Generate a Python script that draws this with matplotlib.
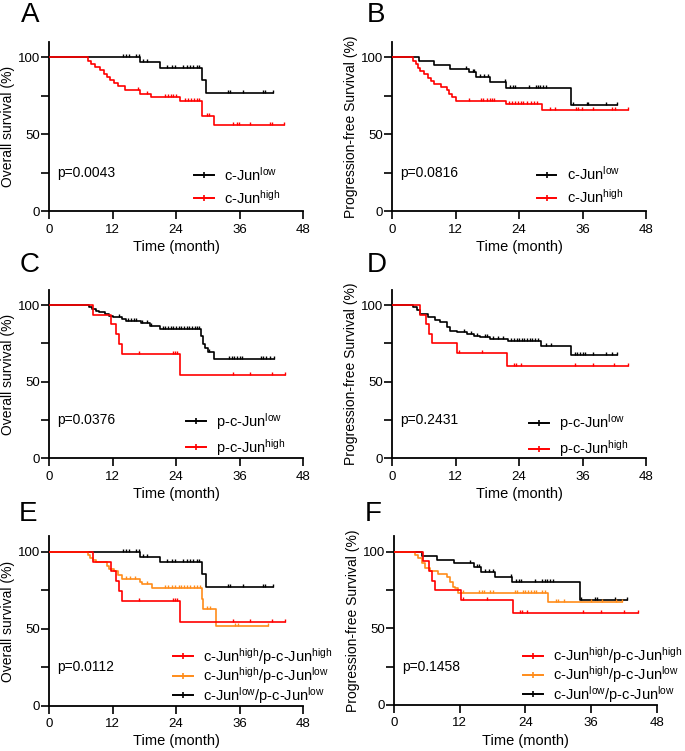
import numpy as np
import matplotlib
matplotlib.use("Agg")
import matplotlib.pyplot as plt
from matplotlib.lines import Line2D

plt.rcParams['font.family'] = ['Liberation Sans', 'DejaVu Sans']
plt.rcParams['mathtext.fontset'] = 'custom'
plt.rcParams['mathtext.rm'] = 'Liberation Sans'
plt.rcParams['mathtext.it'] = 'Liberation Sans'

RED = '#ff0000'
ORANGE = '#ff8c1a'
BLACK = '#000000'

# ---------------- data (time in months, survival in %) ----------------
# Panel A: overall survival by c-Jun
A_low_t = [17.2, 21.0, 28.9, 29.7]
A_low_s = [96.8, 93.1, 85.4, 76.9]
A_low_c = [13.9, 14.6, 15.2, 16.4, 17.0, 17.8, 18.6, 22.2, 23.2, 23.8, 25.3, 26.0,
           26.6, 27.2, 27.9, 28.3, 33.9, 34.2, 36.6, 40.5, 40.8]
A_low_end = 42.3

A_high_t = [7.3, 7.9, 8.6, 9.6, 10.4, 10.9, 11.6, 12.3, 13.0, 14.3, 17.2, 19.3, 24.8, 28.9, 31.2]
A_high_s = [97.9, 95.8, 93.7, 91.6, 89.5, 87.4, 85.3, 83.2, 81.1, 78.9, 76.5, 74.0, 71.7, 61.7, 55.9]
A_high_c = [16.9, 18.5, 22.0, 22.5, 23.0, 23.5, 23.9, 25.6, 26.2, 26.8, 27.3, 27.9, 28.4,
            29.8, 30.2, 34.8, 35.5, 35.9, 38.0, 41.8, 42.1]
A_high_end = 44.3

# Panel B: progression-free survival by c-Jun
B_low_t = [5.1, 7.8, 10.9, 14.6, 15.8, 18.4, 21.6, 33.9]
B_low_s = [97.4, 94.8, 92.4, 90.2, 87.0, 83.7, 80.0, 68.7]
B_low_c = [13.9, 15.2, 15.5, 16.6, 17.3, 18.1, 21.3, 22.3, 22.8, 23.2, 25.8, 27.1, 27.5,
           28.0, 28.5, 29.1, 34.2, 36.8, 37.1, 40.4]
B_low_end = 42.5

B_high_t = [3.9, 4.4, 4.8, 5.2, 6.0, 6.8, 7.3, 7.8, 9.2, 10.3, 10.7, 11.2, 12.1, 21.6, 28.3]
B_high_s = [97.8, 95.6, 93.4, 91.2, 89.0, 86.8, 84.6, 82.4, 80.6, 78.5, 76.3, 74.0, 71.7, 69.8, 65.5]
B_high_c = [14.6, 16.7, 17.1, 17.9, 18.4, 18.8, 19.2, 22.0, 22.6, 23.2, 23.7, 24.3, 24.8,
            25.5, 26.2, 26.8, 27.4, 29.8, 30.8, 34.8, 35.2, 35.8, 38.0, 41.5, 42.1]
B_high_end = 44.5

# Panel C: overall survival by p-c-Jun
C_low_t = [7.5, 8.2, 8.8, 9.5, 10.5, 11.3, 12.0, 13.8, 14.5, 17.3, 19.0, 21.0, 28.8, 29.0, 29.5, 30.0, 31.1]
C_low_s = [98.8, 97.6, 96.4, 95.2, 94.0, 92.9, 92.0, 91.0, 89.8, 88.0, 86.2, 84.6, 80.0, 74.4, 71.7, 69.4, 64.8]
C_low_c = [13.2, 14.9, 15.5, 16.0, 16.5, 17.6, 18.5, 19.3, 21.5, 22.0, 22.5, 23.0, 23.5, 24.0,
           24.5, 25.0, 25.5, 26.0, 26.5, 27.0, 27.5, 28.0, 28.4, 30.3, 34.0, 34.5, 35.0, 35.5,
           36.0, 36.5, 40.0, 40.5, 41.0, 41.7]
C_low_end = 42.5

C_high_t = [8.3, 11.8, 12.6, 13.2, 13.7, 24.8]
C_high_s = [93.5, 87.6, 81.2, 74.8, 68.1, 54.2]
C_high_c = [17.0, 23.5, 23.8, 24.2, 34.8, 38.0, 42.2]
C_high_end = 44.6

# Panel D: progression-free survival by p-c-Jun
D_low_t = [3.9, 4.6, 5.2, 6.8, 8.1, 9.0, 10.3, 10.9, 12.2, 14.1, 15.4, 16.6, 18.5, 21.8, 28.2, 33.8]
D_low_s = [99.0, 96.8, 94.0, 92.4, 90.2, 89.0, 86.0, 83.3, 82.1, 81.0, 80.0, 78.9, 77.8, 76.3, 73.0, 67.3]
D_low_c = [13.5, 14.8, 16.0, 17.5, 18.0, 19.0, 20.0, 21.0, 22.5, 23.0, 23.5, 24.0, 24.5, 25.0,
           25.5, 26.0, 26.5, 27.0, 27.5, 29.0, 30.0, 34.5, 35.0, 35.5, 36.0, 36.5, 38.0, 40.5, 41.5]
D_low_end = 42.5

D_high_t = [5.2, 6.3, 6.9, 7.5, 12.2, 21.7]
D_high_s = [93.8, 87.5, 81.2, 75.0, 68.7, 60.2]
D_high_c = [12.6, 16.9, 23.0, 23.4, 24.3, 34.6, 37.9, 42.0]
D_high_end = 44.5

# Panel E: overall survival, combined groups (c-Jun high / p-c-Jun low)
E_hl_t = [7.4, 7.8, 8.4, 8.8, 10.9, 11.3, 12.2, 13.0, 13.7, 17.2, 17.6, 19.4, 28.9, 29.1, 31.5]
E_hl_s = [98.0, 96.0, 94.5, 93.2, 91.0, 88.6, 87.2, 84.7, 82.0, 80.5, 79.0, 76.2, 69.5, 63.0, 52.0]
E_hl_c = [14.5, 15.3, 16.3, 18.5, 22.0, 22.5, 23.2, 23.8, 24.5, 25.0, 25.5, 26.0, 26.7, 27.3,
          28.0, 28.5, 29.8, 30.4, 35.2, 35.7]
E_hl_end = 41.4

# Panel F: progression-free survival, combined groups (c-Jun high / p-c-Jun low)
F_hl_t = [3.8, 4.4, 5.0, 5.6, 6.5, 8.0, 9.6, 10.2, 10.8, 11.1, 11.7, 28.2]
F_hl_s = [97.8, 95.7, 92.4, 89.1, 87.4, 85.4, 83.3, 80.4, 77.2, 76.0, 73.0, 67.4]
F_hl_c = [12.5, 15.5, 16.0, 16.5, 17.5, 18.0, 22.0, 22.5, 23.5, 24.0, 24.5, 25.0, 25.5, 26.0,
          27.0, 27.5, 29.5, 30.0, 31.0, 36.0, 38.0, 40.5]
F_hl_end = 41.6

p_values = ['p=0.0043', 'p=0.0816', 'p=0.0376', 'p=0.2431', 'p=0.0112', 'p=0.1458']
panel_letters = ['A', 'B', 'C', 'D', 'E', 'F']
ylabels = ['Overall survival (%)', 'Progression-free Survival (%)'] * 3
xticks = [0, 12, 24, 36, 48]

L_cjun_low = r'c-Jun$^{\mathrm{low}}$'
L_cjun_high = r'c-Jun$^{\mathrm{high}}$'
L_p_low = r'p-c-Jun$^{\mathrm{low}}$'
L_p_high = r'p-c-Jun$^{\mathrm{high}}$'
L_hh = r'c-Jun$^{\mathrm{high}}$/p-c-Jun$^{\mathrm{high}}$'
L_hl = r'c-Jun$^{\mathrm{high}}$/p-c-Jun$^{\mathrm{low}}$'
L_ll = r'c-Jun$^{\mathrm{low}}$/p-c-Jun$^{\mathrm{low}}$'

# --------------- drawing ---------------
TICKMARK = [(0, 0), (0, 1)]


def km(ax, t, s, c, end, color, lw=1.2):
    tt = np.concatenate([[0.0], t, [end]])
    ss = np.concatenate([[100.0], s, [s[-1]]])
    ax.step(tt, ss, where='post', color=color, lw=lw, zorder=3)
    cens = np.array(list(c) + [end])
    idx = np.searchsorted(np.array(t), cens, side='right')
    vals = np.concatenate([[100.0], s])[idx]
    ax.plot(cens, vals, ls='none', marker=TICKMARK, markersize=4.5,
            markeredgewidth=1.0, color=color, zorder=4)


def handle(color):
    return Line2D([], [], color=color, lw=1.4, marker='|', markersize=4,
                  markeredgewidth=1.2)


fig = plt.figure(figsize=(6.85, 7.51), dpi=100)

positions = [
    [0.0715, 0.719, 0.371, 0.225],
    [0.5727, 0.719, 0.3704, 0.225],
    [0.0715, 0.3897, 0.371, 0.2245],
    [0.5727, 0.3897, 0.3704, 0.2245],
    [0.0715, 0.0603, 0.371, 0.2256],
    [0.5756, 0.0613, 0.383, 0.2245],
]
letter_pos = [(0.030, 0.998), (0.536, 0.998), (0.028, 0.665), (0.536, 0.665),
              (0.028, 0.333), (0.533, 0.333)]

axes = [fig.add_axes(p) for p in positions]

curves = [
    [(A_low_t, A_low_s, A_low_c, A_low_end, BLACK), (A_high_t, A_high_s, A_high_c, A_high_end, RED)],
    [(B_low_t, B_low_s, B_low_c, B_low_end, BLACK), (B_high_t, B_high_s, B_high_c, B_high_end, RED)],
    [(C_low_t, C_low_s, C_low_c, C_low_end, BLACK), (C_high_t, C_high_s, C_high_c, C_high_end, RED)],
    [(D_low_t, D_low_s, D_low_c, D_low_end, BLACK), (D_high_t, D_high_s, D_high_c, D_high_end, RED)],
    [(A_low_t, A_low_s, A_low_c, A_low_end, BLACK), (E_hl_t, E_hl_s, E_hl_c, E_hl_end, ORANGE),
     (C_high_t, C_high_s, C_high_c, C_high_end, RED)],
    [(B_low_t, B_low_s, B_low_c, B_low_end, BLACK), (F_hl_t, F_hl_s, F_hl_c, F_hl_end, ORANGE),
     (D_high_t, D_high_s, D_high_c, D_high_end, RED)],
]

legends = [
    ([handle(BLACK), handle(RED)], [L_cjun_low, L_cjun_high]),
    ([handle(BLACK), handle(RED)], [L_cjun_low, L_cjun_high]),
    ([handle(BLACK), handle(RED)], [L_p_low, L_p_high]),
    ([handle(BLACK), handle(RED)], [L_p_low, L_p_high]),
    ([handle(RED), handle(ORANGE), handle(BLACK)], [L_hh, L_hl, L_ll]),
    ([handle(RED), handle(ORANGE), handle(BLACK)], [L_hh, L_hl, L_ll]),
]
legend_anchor = [(0.531, -0.032), (0.529, -0.03), (0.50, -0.056), (0.50, -0.067),
                 (0.449, -0.06), (0.452, -0.06)]
legend_spacing = [0.35, 0.35, 0.35, 0.35, -0.1, -0.1]

for i, ax in enumerate(axes):
    for (t, s, c, end, col) in curves[i]:
        km(ax, np.array(t), np.array(s), c, end, col)
    ax.set_xlim(0, 48)
    ax.set_ylim(0, 110)
    ax.set_xticks(xticks)
    ax.set_yticks([0, 50, 100])
    ax.set_yticks([25, 75], minor=True)
    for side in ['top', 'right']:
        ax.spines[side].set_visible(False)
    for side in ['left', 'bottom']:
        ax.spines[side].set_linewidth(1.3)
    ax.tick_params(which='both', direction='out', width=1.2, length=5.5, labelsize=9.5)
    ax.tick_params(axis='x', which='both', pad=3.5)
    ax.tick_params(axis='y', which='both', pad=1.0)
    ax.set_xlabel('Time (month)', fontsize=10.5, labelpad=3)
    ax.set_ylabel(ylabels[i], fontsize=10, labelpad=2)
    ax.text(1.5, 25, p_values[i], fontsize=10, va='center', ha='left')
    hs, ls = legends[i]
    ax.legend(hs, ls, loc='lower left', bbox_to_anchor=legend_anchor[i], frameon=False,
              fontsize=10.5, handlelength=1.35, handletextpad=0.7,
              labelspacing=legend_spacing[i], borderpad=0.2, numpoints=1)
    fig.text(letter_pos[i][0], letter_pos[i][1], panel_letters[i], fontsize=20,
             va='top', ha='left')

fig.savefig('out.png', dpi=100)
